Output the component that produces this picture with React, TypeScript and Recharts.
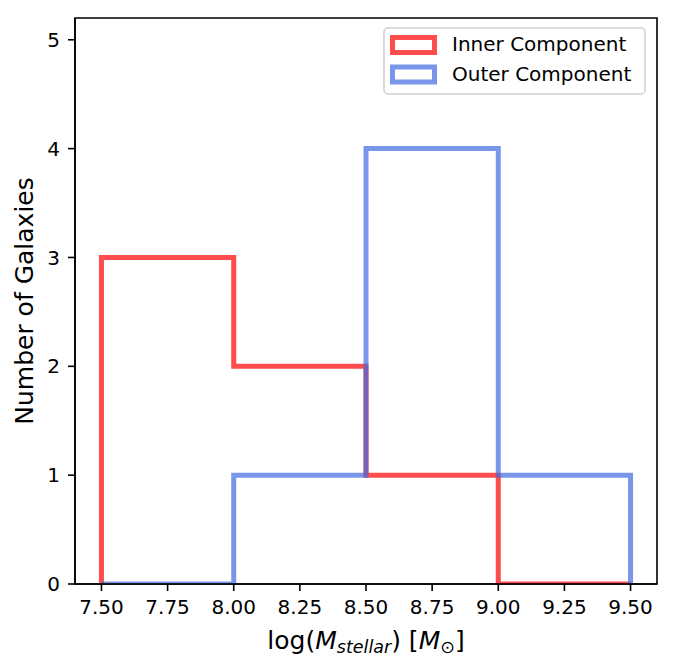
import React from "react";
import { ComposedChart, Line, XAxis, YAxis, Legend, ReferenceArea } from "recharts";

const binEdges = [7.5, 8.0, 8.5, 9.0, 9.5];
const innerCounts = [3, 2, 1, 0];
const outerCounts = [0, 1, 4, 1];
const xTicks = [7.5, 7.75, 8.0, 8.25, 8.5, 8.75, 9.0, 9.25, 9.5];
const yTicks = [0, 1, 2, 3, 4, 5];
const seriesNames = ["Inner Component", "Outer Component"];
const seriesColors = ["#ff0000", "#4169e1"];

const FONT = "DejaVu Sans, sans-serif";

function stepPoints(edges: number[], counts: number[]) {
  const pts: { x: number; y: number }[] = [{ x: edges[0], y: 0 }];
  counts.forEach((c, i) => {
    pts.push({ x: edges[i], y: c });
    pts.push({ x: edges[i + 1], y: c });
  });
  pts.push({ x: edges[edges.length - 1], y: 0 });
  return pts;
}

const innerData = stepPoints(binEdges, innerCounts);
const outerData = stepPoints(binEdges, outerCounts);

const XLabel = (props: any) => {
  const vb = props.viewBox || {};
  const cx = vb.x + vb.width / 2;
  return (
    <text x={cx} y={649} textAnchor="middle" fontFamily={FONT} fontSize={25} fill="#000">
      <tspan>log(</tspan>
      <tspan fontStyle="italic">M</tspan>
      <tspan fontStyle="italic" fontSize={17.5} dy={4}>stellar</tspan>
      <tspan dy={-4}>) [</tspan>
      <tspan fontStyle="italic">M</tspan>
      <tspan fontSize={17.5} dy={4}>⊙</tspan>
      <tspan dy={-4}>]</tspan>
    </text>
  );
};

const YLabel = (props: any) => {
  const vb = props.viewBox || {};
  const cy = vb.y + vb.height / 2;
  return (
    <text
      x={33}
      y={cy}
      transform={`rotate(-90 33 ${cy})`}
      textAnchor="middle"
      fontFamily={FONT}
      fontSize={25}
      fill="#000"
    >
      Number of Galaxies
    </text>
  );
};

const LegendBox = () => (
  <svg width={264} height={69} style={{ display: "block" }}>
    <rect x={1} y={1} width={261} height={66} rx={4} ry={4} fill="#fff" fillOpacity={0.8} stroke="#d0d0d0" strokeWidth={1.5} />
    {seriesNames.map((name, i) => (
      <g key={name}>
        <rect
          x={9.5}
          y={10.5 + i * 29.5}
          width={42}
          height={15}
          fill="none"
          stroke={seriesColors[i]}
          strokeOpacity={0.7}
          strokeWidth={5}
        />
        <text x={69} y={24 + i * 30} fontFamily={FONT} fontSize={20} fill="#000">
          {name}
        </text>
      </g>
    ))}
  </svg>
);

export default function App() {
  return (
    <div style={{ position: "absolute", left: 0, top: 0, width: 674, height: 670, background: "#fff" }}>
      <ComposedChart width={674} height={670} margin={{ top: 18, right: 17, left: 0, bottom: 0 }}>
        <XAxis
          dataKey="x"
          type="number"
          domain={[7.4, 9.6]}
          ticks={xTicks}
          tickFormatter={(v: number) => v.toFixed(2)}
          allowDataOverflow
          height={86}
          tickSize={7}
          tickMargin={9}
          axisLine={{ stroke: "#000", strokeWidth: 1.6 }}
          tickLine={{ stroke: "#000", strokeWidth: 1.6 }}
          tick={{ fontFamily: FONT, fontSize: 20, fill: "#000" }}
          label={{ content: XLabel }}
        />
        <YAxis
          type="number"
          domain={[0, 5.2]}
          ticks={yTicks}
          allowDataOverflow
          width={75}
          tickSize={7}
          tickMargin={8}
          axisLine={{ stroke: "#000", strokeWidth: 1.6 }}
          tickLine={{ stroke: "#000", strokeWidth: 1.6 }}
          tick={{ fontFamily: FONT, fontSize: 20, fill: "#000" }}
          label={{ content: YLabel }}
        />
        <ReferenceArea x1={7.4} x2={9.6} y1={0} y2={5.2} fill="none" stroke="#000" strokeWidth={1.6} />
        <Line
          data={innerData}
          dataKey="y"
          name={seriesNames[0]}
          type="linear"
          stroke={seriesColors[0]}
          strokeOpacity={0.7}
          strokeWidth={5}
          strokeLinejoin="miter"
          strokeLinecap="butt"
          dot={false}
          activeDot={false}
          isAnimationActive={false}
        />
        <Line
          data={outerData}
          dataKey="y"
          name={seriesNames[1]}
          type="linear"
          stroke={seriesColors[1]}
          strokeOpacity={0.7}
          strokeWidth={5}
          strokeLinejoin="miter"
          strokeLinecap="butt"
          dot={false}
          activeDot={false}
          isAnimationActive={false}
        />
        <Legend
          layout="vertical"
          align="center"
          verticalAlign="middle"
          wrapperStyle={{ left: 383, top: 27, width: 264, height: 69 }}
          content={LegendBox}
        />
      </ComposedChart>
    </div>
  );
}
